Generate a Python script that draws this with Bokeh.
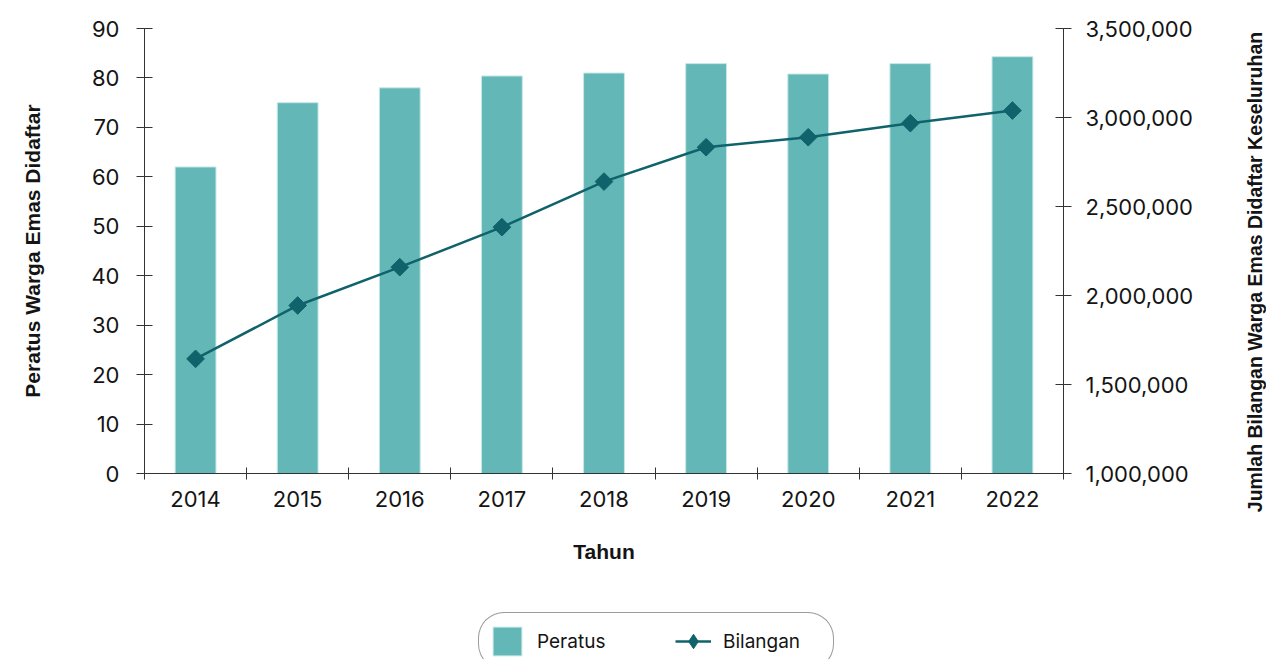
import math
from bokeh.plotting import figure
from bokeh.layouts import column, row
from bokeh.models import (Range1d, LinearAxis, FixedTicker, NumeralTickFormatter,
                          Legend, LegendItem, ColumnDataSource, Label)
from bokeh.embed import file_html
from bokeh.resources import INLINE

# ---------------- data ----------------
years = ["2014", "2015", "2016", "2017", "2018", "2019", "2020", "2021", "2022"]
peratus = [62.0, 75.0, 78.0, 80.4, 81.0, 82.9, 80.8, 82.9, 84.3]
bilangan = [1644000, 1944000, 2159000, 2384000, 2640000, 2833000, 2889000, 2968000, 3039000]
left_ticks = [0, 10, 20, 30, 40, 50, 60, 70, 80, 90]
right_ticks = [1000000, 1500000, 2000000, 2500000, 3000000, 3500000]

left_title = "Peratus Warga Emas Didaftar"
right_title = "Jumlah Bilangan Warga Emas Didaftar Keseluruhan"
x_title = "Tahun"
series_names = ["Peratus", "Bilangan"]

BAR = "#64b7b7"
DARK = "#10636b"
TXT = "#141414"
AX = "#333333"
FONT = "Inter"
TFONT = "Liberation Sans"

xpos = list(range(len(years)))
src = ColumnDataSource(dict(x=xpos, year=years, peratus=peratus, bilangan=bilangan))

common = dict(output_backend="svg", toolbar_location=None,
              background_fill_color="white", border_fill_color="white",
              outline_line_color=None)

# ---------------- main chart ----------------
p = figure(frame_width=919, frame_height=445,
           x_range=Range1d(-0.5, len(years) - 0.5),
           y_range=Range1d(left_ticks[0], left_ticks[-1]),
           min_border_left=144, min_border_right=173,
           min_border_top=28, min_border_bottom=127, **common)
p.extra_y_ranges = {"right": Range1d(right_ticks[0], right_ticks[-1])}
p.grid.visible = False

bar_style = dict(fill_color=BAR, line_color="#c8e8e8", line_width=1)
line_style = dict(line_color=DARK, line_width=2.5)
pt_style = dict(marker="square", size=12.5, angle=math.pi / 4, fill_color=DARK, line_color=DARK)

bars = p.vbar(x="x", top="peratus", width=0.4, source=src, **bar_style)
line = p.line(x="x", y="bilangan", source=src, y_range_name="right", **line_style)
pts = p.scatter(x="x", y="bilangan", source=src, y_range_name="right", **pt_style)

def style_axis(ax):
    ax.axis_line_color = AX
    ax.axis_line_width = 1
    ax.major_tick_line_color = AX
    ax.major_tick_in = 8
    ax.major_tick_out = 8
    ax.minor_tick_line_color = None
    ax.major_label_text_font = FONT
    ax.major_label_text_font_size = "22px"
    ax.major_label_text_color = TXT
    ax.axis_label_text_font = TFONT
    ax.axis_label_text_font_size = "21px"
    ax.axis_label_text_font_style = "bold"
    ax.axis_label_text_color = TXT
    ax.major_label_standoff = 14

la = p.yaxis[0]
la.ticker = FixedTicker(ticks=left_ticks)
la.axis_label = left_title
style_axis(la)
la.major_label_standoff = 17
la.axis_label_standoff = 44

ra = LinearAxis(y_range_name="right", ticker=FixedTicker(ticks=right_ticks),
                formatter=NumeralTickFormatter(format="0,0"))
style_axis(ra)
p.add_layout(ra, "right")

xa = p.xaxis[0]
xa.ticker = FixedTicker(ticks=xpos, minor_ticks=[i - 0.5 for i in range(len(years) + 1)])
xa.major_label_overrides = {i: y for i, y in zip(xpos, years)}
xa.axis_label = x_title
style_axis(xa)
xa.major_tick_line_color = None
xa.major_tick_in = 0
xa.major_tick_out = 0
xa.minor_tick_line_color = AX
xa.minor_tick_in = 6
xa.minor_tick_out = 6
xa.major_label_standoff = 11
xa.axis_label_standoff = 30

MAIN_H = 28 + 445 + 127

# ---------------- right axis title (reads bottom to top) ----------------
t = figure(title=None, frame_width=30, frame_height=MAIN_H,
           x_range=Range1d(0, 30), y_range=Range1d(0, MAIN_H),
           x_axis_location=None, y_axis_location=None,
           min_border_left=0, min_border_right=0, min_border_top=0, min_border_bottom=0,
           **common)
t.grid.visible = False
t.add_layout(Label(x=18, y=MAIN_H - 243.5, text=right_title, angle=math.pi / 2,
                   text_align="center", text_baseline="middle",
                   text_font=TFONT, text_font_size="19.5px", text_font_style="bold",
                   text_color=TXT))

# ---------------- legend strip ----------------
LEG_H = 59
lg = figure(title=None, frame_width=1266, frame_height=LEG_H,
            x_range=Range1d(-0.5, len(years) - 0.5), y_range=Range1d(1e9, 1e9 + 1),
            x_axis_location=None, y_axis_location=None,
            min_border_left=0, min_border_right=0, min_border_top=0, min_border_bottom=0,
            **common)
lg.grid.visible = False
# same data, drawn far outside this strip's visible range: only their legend glyphs show
lb = lg.vbar(x="x", top="peratus", width=0.4, source=src, **bar_style)
ll = lg.line(x="x", y="bilangan", source=src, **line_style)
lp = lg.scatter(x="x", y="bilangan", source=src, marker="diamond",
                fill_color=DARK, line_color=DARK)
leg = Legend(items=[LegendItem(label=series_names[0], renderers=[lb]),
                    LegendItem(label=series_names[1], renderers=[ll, lp])],
             location=(478, -11), orientation="horizontal", margin=0,
             glyph_width=36, glyph_height=36, padding=10, spacing=38,
             label_standoff=12, label_width=100,
             label_text_font=FONT, label_text_font_size="19px",
             label_text_color=TXT,
             border_line_color="#3a3a3a", border_line_width=1.5,
             background_fill_color="white", background_fill_alpha=1.0)
if "border_radius" in Legend.properties():
    leg.border_radius = 26
lg.add_layout(leg)

layout = column(row(p, t, spacing=0), lg, spacing=0)
open("out.html", "w").write(file_html(layout, INLINE))
